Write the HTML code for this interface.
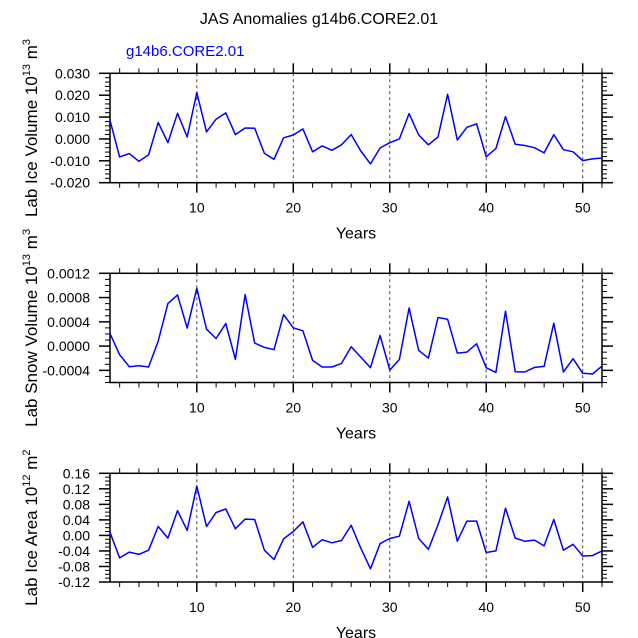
<!DOCTYPE html>
<html><head><meta charset="utf-8"><style>
body{margin:0;background:#fff}
svg{display:block;font-family:"Liberation Sans",sans-serif}
</style></head><body>
<svg id="c" width="638" height="638" xmlns="http://www.w3.org/2000/svg">
<text x="319" y="24" font-size="16" text-anchor="middle">JAS Anomalies g14b6.CORE2.01</text>
<text x="126" y="56" font-size="15" fill="#0000ff">g14b6.CORE2.01</text>
</svg>
<script>
const years = Array.from({length:52},(_,i)=>i+1);
const iceVolume = [0.0085,-0.0082,-0.0067,-0.0102,-0.0073,0.0075,-0.0017,0.0117,0.0009,0.0212,0.0032,0.009,0.0119,0.002,0.005,0.0049,-0.0066,-0.0093,0.0005,0.0018,0.0046,-0.0059,-0.0032,-0.0052,-0.0027,0.002,-0.0055,-0.0114,-0.0041,-0.0017,0,0.0116,0.0018,-0.0027,0.0009,0.0204,-0.0005,0.0053,0.0069,-0.0081,-0.0044,0.0102,-0.0024,-0.003,-0.004,-0.0064,0.002,-0.0049,-0.0059,-0.0099,-0.0091,-0.0087];
const snowVolume = [0.000208,-0.000142,-0.00034,-0.000323,-0.000345,0.000082,0.000701,0.000844,0.000296,0.000953,0.000279,0.000126,0.000373,-0.000219,0.000849,0.000049,-0.000022,-0.00006,0.00052,0.000301,0.000252,-0.000236,-0.000345,-0.000345,-0.000285,-0.000011,-0.000181,-0.000356,0.000175,-0.000395,-0.000219,0.00063,-0.000071,-0.000197,0.000471,0.000444,-0.000115,-0.000099,0.000038,-0.000356,-0.000433,0.000575,-0.000422,-0.000427,-0.000351,-0.000334,0.000378,-0.000427,-0.000208,-0.000449,-0.00046,-0.000329];
const iceArea = [0.008,-0.058,-0.043,-0.049,-0.038,0.023,-0.007,0.064,0.013,0.127,0.023,0.059,0.068,0.017,0.042,0.041,-0.038,-0.062,-0.009,0.010,0.035,-0.031,-0.011,-0.019,-0.013,0.026,-0.033,-0.086,-0.021,-0.008,-0.002,0.088,-0.008,-0.036,0.027,0.099,-0.015,0.037,0.037,-0.044,-0.040,0.070,-0.007,-0.015,-0.012,-0.027,0.041,-0.038,-0.023,-0.053,-0.052,-0.040];
const xTicks = [10,20,30,40,50];
const ticks1 = ["0.030","0.020","0.010","0.000","-0.010","-0.020"];
const ticks2 = ["0.0012","0.0008","0.0004","0.0000","-0.0004"];
const ticks3 = ["0.16","0.12","0.08","0.04","0.00","-0.04","-0.08","-0.12"];

const svg=document.getElementById('c');
const NS='http://www.w3.org/2000/svg';
function mk(tag,at,parent){const e=document.createElementNS(NS,tag);for(const k in at)e.setAttribute(k,at[k]);(parent||svg).appendChild(e);return e;}
const L=110,R=602,xmin=1,xmax=52;
const X=v=>L+(v-xmin)/(xmax-xmin)*(R-L);

function panel(p){
  const g=mk('g',{});
  
  
  const Y=v=>p.top+(p.ymax-v)/(p.ymax-p.ymin)*(p.bot-p.top);
  // grid
  xTicks.forEach(t=>{const l=mk('line',{x1:X(t),x2:X(t),y1:p.top,y2:p.bot,stroke:'#444','stroke-width':1,'stroke-dasharray':'3,3'},g);
    });
  // x ticks
  for(let t=2;t<=52;t+=2){const maj=t%10==0;const len=maj?10:5;
    mk('line',{x1:X(t),x2:X(t),y1:p.top,y2:p.top-len,stroke:'#000','stroke-width':maj?1.5:1},g);
    mk('line',{x1:X(t),x2:X(t),y1:p.bot,y2:p.bot+len,stroke:'#000','stroke-width':maj?1.5:1},g);}
  xTicks.forEach(t=>{const tx=mk('text',{x:X(t),y:p.bot+30,'font-size':14,'text-anchor':'middle'},g);tx.textContent=t;
    });
  // y ticks
  const step=(p.ymax-p.ymin)/p.nmaj;
  for(let i=0;i<=p.nmaj*p.sub;i++){const v=p.ymax-i*step/p.sub;const maj=i%p.sub==0;const len=maj?11:5;
    mk('line',{x1:L,x2:L-len,y1:Y(v),y2:Y(v),stroke:'#000','stroke-width':maj?1.5:1},g);
    mk('line',{x1:R,x2:R+len,y1:Y(v),y2:Y(v),stroke:'#000','stroke-width':maj?1.5:1},g);}
  p.labels.forEach((s,i)=>{const v=p.ymax-i*step;const tx=mk('text',{x:90,y:Y(v)+5,'font-size':14,'text-anchor':'end'},g);tx.textContent=s;
    });
  // frame
  const fr=mk('rect',{x:L,y:p.top,width:R-L,height:p.bot-p.top,fill:'none',stroke:'#000','stroke-width':1.5},g);
  
  // line
  const d=p.data.map((v,i)=>(i?'L':'M')+X(years[i]).toFixed(1)+','+Y(v).toFixed(1)).join('');
  const ln=mk('path',{d:d,fill:'none',stroke:'#0000ff','stroke-width':1.5,'stroke-linejoin':'round'},g);
  
  const xt=mk('text',{x:(L+R)/2,y:p.bot+56,'font-size':16,'text-anchor':'middle'},g);xt.textContent='Years';
  
  const cy=(p.top+p.bot)/2+p.yoff;
  const yt=mk('text',{x:0,y:0,'font-size':17,'text-anchor':'middle',transform:`translate(37,${cy}) rotate(-90)`},g);
  yt.innerHTML=p.ylab+' 10<tspan dy="-7" font-size="11">'+p.exp+'</tspan><tspan dy="7"> m</tspan><tspan dy="-7" font-size="11">'+p.unit+'</tspan>';
  
}
panel({name:'ice-volume-panel',top:73.3,bot:182.7,ymin:-0.02,ymax:0.03,nmaj:5,sub:5,labels:ticks1,data:iceVolume,ylab:'Lab Ice Volume',exp:'13',unit:'3',yoff:0});
panel({name:'snow-volume-panel',top:273.3,bot:382.5,ymin:-0.0006,ymax:0.0012,nmaj:4.5,sub:4,labels:ticks2,data:snowVolume,ylab:'Lab Snow Volume',exp:'13',unit:'3',yoff:0});
panel({name:'ice-area-panel',top:473.3,bot:582,ymin:-0.12,ymax:0.16,nmaj:7,sub:4,labels:ticks3,data:iceArea,ylab:'Lab Ice Area',exp:'12',unit:'2',yoff:0});
</script>
</body></html>
